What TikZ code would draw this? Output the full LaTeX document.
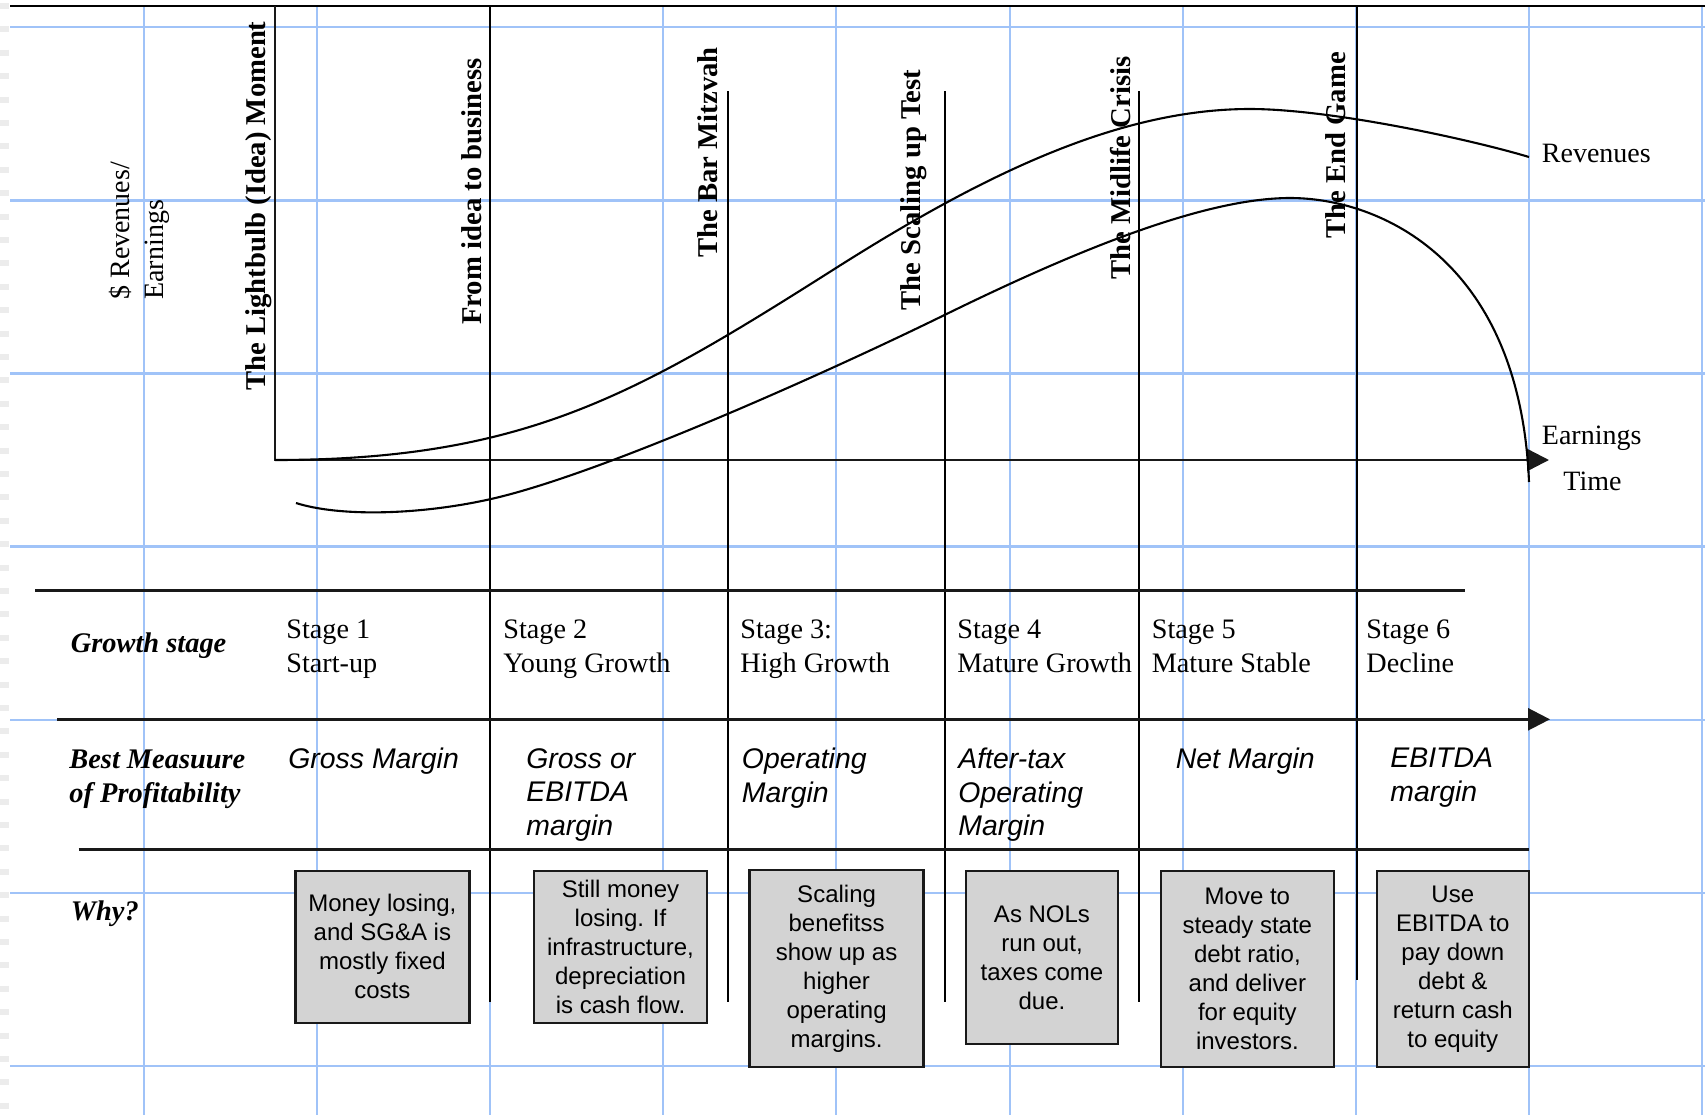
\documentclass[tikz,border=0pt]{standalone}
\usepackage{fontspec}
\setmainfont{Liberation Serif}
\setsansfont{Liberation Sans}
\usetikzlibrary{arrows.meta}
\definecolor{gridblue}{RGB}{160,195,248}
\definecolor{boxgray}{RGB}{211,211,211}
\definecolor{edgegray}{RGB}{236,236,236}
\begin{document}
\begin{tikzpicture}[x=0.5pt,y=-0.5pt,
  gridline/.style={gridblue, line width=1.15pt},
  blk/.style={black, line width=1pt},
  axis/.style={black!90, line width=1.25pt},
  curve/.style={black, line width=1.05pt, line join=round},
  tip/.style={-{Triangle[length=11pt,width=11pt]}},
  vlabel/.style={rotate=90, anchor=base, inner sep=0pt, font=\fontsize{14.35}{17}\selectfont\bfseries},
  plain/.style={inner sep=0pt, font=\fontsize{14}{17}\selectfont},
  stagelbl/.style={inner sep=0pt, anchor=north west, align=left, font=\fontsize{14.1}{17}\selectfont},
  rowhead/.style={inner sep=0pt, anchor=north west, align=left, font=\fontsize{14.2}{17}\selectfont\bfseries\itshape},
  measure/.style={inner sep=0pt, anchor=north west, align=left, font=\fontsize{14.2}{16.75}\selectfont\sffamily\itshape},
  whybox/.style={draw=black!90, line width=1.25pt, fill=boxgray, align=center, inner sep=0pt, font=\fontsize{12}{14.5}\selectfont\sffamily},
]
\useasboundingbox (0,0) rectangle (1705,1115);
\fill[white] (0,0) rectangle (1705,1115);
% scanner edge
\draw[edgegray, line width=4.5pt, dash pattern=on 3pt off 8.7pt] (4.5,3) -- (4.5,1115);
% grid
\foreach \gx in {144,317,490,663,836,1010,1183,1356,1529,1702}
  \draw[gridline] (\gx,6) -- (\gx,1115);
\foreach \gy in {27.3,200.4,373.5,546.6,719.7,892.8,1065.9}
  \draw[gridline] (10,\gy) -- (1705,\gy);
% top rule
\coordinate (topL) at (10,6);
\coordinate (topR) at (1705,6);
\draw[blk] (topL) -- (topR);
% axes
\coordinate (ytop) at (275,6);
\coordinate (O) at (275,460);
\coordinate (xend) at (1549,460);
\draw[axis, tip] (ytop) -- (O) -- (xend);
% milestone lines
\coordinate (l2t) at (490,6);      \coordinate (l2b) at (490,1002);
\coordinate (l3t) at (728,91);     \coordinate (l3b) at (728,1002);
\coordinate (l4t) at (944.5,91);   \coordinate (l4b) at (944.5,1002);
\coordinate (l5t) at (1139,91);    \coordinate (l5b) at (1139,1002);
\coordinate (l6t) at (1356.5,6);   \coordinate (l6b) at (1356.5,980);
\draw[blk] (l2t) -- (l2b);
\draw[blk] (l3t) -- (l3b);
\draw[blk] (l4t) -- (l4b);
\draw[blk] (l5t) -- (l5b);
\draw[blk] (l6t) -- (l6b);
% table rules
\coordinate (t1a) at (35,590.5);   \coordinate (t1b) at (1465,590.5);
\coordinate (t2a) at (57,719.3);   \coordinate (t2b) at (1550,719.3);
\coordinate (t3a) at (78.6,849.3); \coordinate (t3b) at (1529,849.3);
\draw[axis] (t1a) -- (t1b);
\draw[axis, tip] (t2a) -- (t2b);
\draw[axis] (t3a) -- (t3b);
% curves
\coordinate (revEnd) at (1529,157);
\coordinate (earnStart) at (296,503);
\coordinate (earnEnd) at (1529,482);
\draw[curve] (O) .. controls (525,460) and (636,394.8) .. (836,268)
  .. controls (986,172.9) and (1120,109) .. (1250,109)
  .. controls (1330,109) and (1469,139) .. (revEnd);
\draw[curve] (earnStart) .. controls (340,517) and (420,515) .. (491,499)
  .. controls (600,474.4) and (824.5,373.8) .. (944.5,315)
  .. controls (1064.5,256.2) and (1200,198) .. (1290,198)
  .. controls (1380,198) and (1520,260) .. (earnEnd);
% vertical labels
\node[vlabel] (lb) at (265,206) {The Lightbulb (Idea) Moment};
\node[vlabel] (fi) at (481.5,191.5) {From idea to business};
\node[vlabel] (bm) at (717,152.3) {The Bar Mitzvah};
\node[vlabel] (su) at (920.7,190) {The Scaling up Test};
\node[vlabel] (mc) at (1130,168.3) {The Midlife Crisis};
\node[vlabel] (eg) at (1345,145.3) {The End Game};
\node[plain, rotate=90, anchor=north west, align=left] (ylab) at (109,300) {\$ Revenues/\\Earnings};
\node[plain, anchor=base west] (rev) at (1541.5,162.5) {Revenues};
\node[plain, anchor=base west] (earn) at (1541.5,444.5) {Earnings};
\node[plain, anchor=base west] (time) at (1563,490.5) {Time};
% table text
\node[rowhead] (gs) at (70.5,632) {Growth stage};
\node[rowhead] (bmp) at (69,749) {Best Measuure\\of Profitability};
\node[rowhead] (why) at (70.5,900) {Why?};
\node[stagelbl] (s1) at (286,619) {Stage 1\\Start-up};
\node[stagelbl] (s2) at (503,619) {Stage 2\\Young Growth};
\node[stagelbl] (s3) at (740,619) {Stage 3:\\High Growth};
\node[stagelbl] (s4) at (957,619) {Stage 4\\Mature Growth};
\node[stagelbl] (s5) at (1151.5,619) {Stage 5\\Mature Stable};
\node[stagelbl] (s6) at (1366,619) {Stage 6\\Decline};
\node[measure] (m1) at (288,748) {Gross Margin};
\node[measure] (m2) at (526,748) {Gross or\\EBITDA\\margin};
\node[measure] (m3) at (741.5,748) {Operating\\Margin};
\node[measure] (m4) at (958,748) {After-tax\\Operating\\Margin};
\node[measure] (m5) at (1175.5,748) {Net Margin};
\node[measure] (m6) at (1390,748) {EBITDA\\margin};
% why boxes
\node[whybox, minimum width=87pt, minimum height=75.85pt] (b1) at (382.4,946.9) {Money losing,\\and SG\&A is\\mostly fixed\\costs};
\node[whybox, minimum width=86.5pt, minimum height=75.85pt] (b2) at (620.5,946.9) {Still money\\losing. If\\infrastructure,\\depreciation\\is cash flow.};
\node[whybox, minimum width=87pt, minimum height=98.35pt] (b3) at (836.6,968.4) {Scaling\\benefitss\\show up as\\higher\\operating\\margins.};
\node[whybox, minimum width=76pt, minimum height=86.5pt] (b4) at (1042,957.5) {As NOLs\\run out,\\taxes come\\due.};
\node[whybox, minimum width=86.6pt, minimum height=97.85pt] (b5) at (1247.4,968.9) {Move to\\steady state\\debt ratio,\\and deliver\\for equity\\investors.};
\node[whybox, minimum width=76pt, minimum height=97.85pt] (b6) at (1452.8,968.9) {Use\\EBITDA to\\pay down\\debt \&\\return cash\\to equity};
\end{tikzpicture}
\end{document}
